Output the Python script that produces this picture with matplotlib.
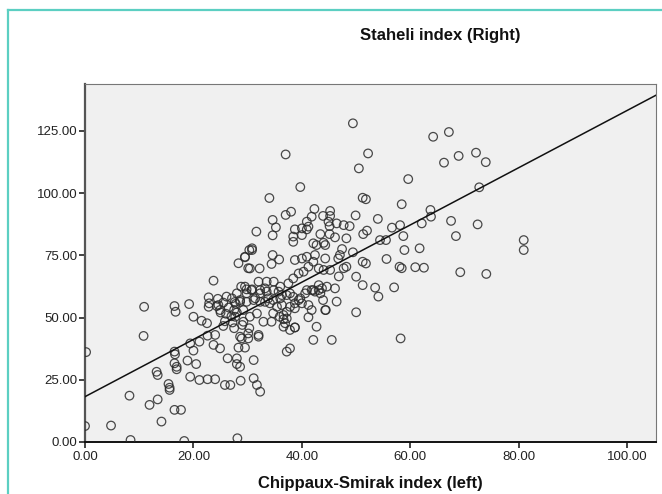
import numpy as np
import matplotlib
matplotlib.use("Agg")
import matplotlib.pyplot as plt
from matplotlib.lines import Line2D

plt.rcParams['font.family'] = ['Liberation Sans', 'DejaVu Sans']

# Chippaux-Smirak index (left foot) for each subject
cs_left = [
    # lower left
    0.2, 0.0, 4.8, 8.4, 8.2, 10.8, 10.9, 11.9, 13.4, 14.1, 13.2, 13.4, 15.4, 15.6, 15.6,
    16.5, 17.7, 16.5, 16.6, 16.5, 16.9, 16.9, 16.7, 16.5, 18.3, 18.9, 20.5, 19.4, 21.1,
    22.6, 24.0, 20.0, 21.5, 22.5, 19.4, 21.1, 20.0, 22.6, 24.0, 23.7, 24.9, 25.5, 26.3,
    28.0, 28.0, 25.8, 26.8, 28.7, 28.1, 27.5, 28.9, 28.3, 29.5, 30.1, 31.1, 31.7, 32.3,
    31.1, 28.6, 30.3,
    # central band
    19.2, 23.7, 22.8, 22.9, 22.8, 24.3, 24.9, 26.1, 27.1, 28.3, 29.5, 30.3, 30.1, 28.8,
    28.0, 28.6, 29.8, 24.6, 27.6, 29.8, 30.7, 31.1, 32.3, 33.2, 33.8, 34.7, 35.7, 36.3,
    37.8, 38.7, 39.7, 40.9, 42.1, 42.4, 43.1, 43.4, 44.6, 46.1, 46.4, 42.7, 42.1, 45.5,
    37.2, 37.8, 38.7, 34.7, 35.9, 32.0, 25.5, 26.5, 27.5, 26.0, 27.0, 28.0, 25.0, 24.5,
    27.8, 25.8, 27.2, 29.0, 27.7, 29.2,
    29.5, 30.8, 30.4, 32.2, 34.6, 35.8, 34.4, 29.5, 30.8, 32.0, 33.5, 34.8, 32.3, 33.5,
    34.8, 36.0, 37.5, 38.4, 39.4, 40.3, 41.2, 42.1, 43.1, 44.0, 45.2, 38.7, 40.0, 40.9,
    42.4, 44.3, 46.7, 42.7, 44.3, 36.0, 37.2, 38.4, 39.4, 40.6, 41.8, 43.1, 28.6, 29.8,
    31.4, 32.3, 33.2, 34.1, 35.4, 36.3, 37.8, 38.7, 40.0, 41.2, 29.2, 30.4, 31.7, 32.9,
    34.4, 36.6, 37.2, 38.7, 30.1, 32.0, 28.6,
    37.8, 36.6, 37.2, 36.6, 36.9, 43.7, 41.8, 41.2, 44.3, 50.0, 50.0, 51.2, 53.5, 57.0,
    54.1, 51.2, 51.8, 48.2, 47.7, 55.6, 58.0, 58.4, 60.9, 62.5, 69.2, 74.0, 58.2, 43.9,
    44.4, 46.8,
    # upper part
    49.4, 37.0, 52.2, 50.5, 59.6, 39.7, 34.0, 51.2, 51.8, 58.4, 49.9, 54.0, 37.0, 38.0,
    34.6, 35.2, 31.6, 34.6, 42.3, 45.2, 41.8, 43.9, 45.2, 40.9, 44.9, 38.7, 40.0, 40.9,
    41.2, 38.4, 38.4, 40.0, 43.4, 45.1, 45.1, 46.4, 47.7, 48.8, 46.1, 48.2, 51.3, 52.0,
    56.6, 58.1, 58.7, 54.4, 55.5, 30.8, 42.1, 44.0, 58.9, 64.2, 67.1, 66.2, 68.9, 72.1,
    73.9, 72.7, 63.7, 63.8, 62.1, 67.5, 72.4, 68.4, 61.7, 80.9, 80.9, 47.4, 49.4, 47.0,
]

# Staheli index (right foot) for the same subjects
staheli_right = [
    # lower left
    36.1, 6.4, 6.6, 0.8, 18.6, 42.6, 54.3, 14.9, 17.1, 8.2, 28.2, 26.9, 23.3, 21.8, 20.9,
    12.9, 12.9, 36.3, 35.2, 31.6, 30.2, 29.2, 52.3, 54.6, 0.4, 32.7, 31.3, 26.2, 24.9,
    25.2, 25.2, 50.3, 48.7, 47.7, 39.6, 40.3, 36.7, 42.7, 43.0, 39.0, 37.6, 46.6, 33.6,
    33.6, 31.3, 22.9, 22.9, 24.6, 1.5, 45.7, 41.6, 37.9, 37.9, 41.6, 25.6, 22.9, 20.2,
    32.9, 30.2, 45.7,
    # central band
    55.4, 64.8, 58.1, 55.7, 54.3, 54.6, 53.0, 58.4, 57.7, 71.8, 74.2, 77.1, 69.8, 62.4,
    59.7, 57.0, 61.3, 55.0, 56.2, 59.7, 61.0, 57.0, 59.7, 61.7, 57.7, 57.0, 60.4, 59.0,
    59.7, 55.7, 57.7, 61.0, 61.0, 60.4, 63.0, 59.7, 62.4, 61.7, 56.4, 46.3, 41.0, 41.0,
    36.3, 37.6, 46.0, 51.7, 50.3, 43.0, 56.0, 54.0, 53.0, 51.5, 50.5, 52.0, 52.0, 57.5,
    55.5, 48.5, 48.0, 47.0, 50.3, 48.3,
    74.4, 77.1, 69.7, 69.7, 75.1, 73.3, 71.5, 62.4, 61.3, 64.4, 64.4, 64.4, 61.0, 60.4,
    61.0, 62.4, 63.7, 65.7, 67.7, 68.4, 70.4, 72.4, 69.7, 69.1, 69.1, 73.1, 73.7, 74.4,
    75.1, 73.7, 73.7, 79.1, 79.1, 57.7, 59.0, 58.3, 57.0, 59.7, 61.0, 61.0, 56.3, 56.3,
    57.7, 56.3, 56.3, 55.7, 54.3, 55.0, 54.3, 53.7, 55.7, 55.0, 53.0, 50.3, 51.6, 48.3,
    48.3, 51.0, 49.6, 46.0, 43.6, 42.3, 42.3,
    45.0, 46.3, 52.3, 49.3, 47.7, 61.7, 53.0, 50.1, 53.0, 52.1, 66.4, 63.0, 62.0, 62.1,
    58.4, 72.4, 71.7, 70.4, 69.8, 73.5, 70.4, 69.8, 70.2, 70.0, 68.2, 67.5, 41.6, 57.0,
    53.0, 66.5,
    # upper part
    128.0, 115.5, 115.9, 109.9, 105.6, 102.4, 98.0, 98.1, 97.5, 95.5, 91.0, 89.6, 91.2, 92.5,
    89.2, 86.2, 84.5, 83.0, 93.6, 92.8, 90.5, 90.8, 90.8, 88.5, 88.5, 85.4, 85.8, 85.4,
    86.5, 82.5, 80.4, 83.1, 83.5, 86.7, 83.5, 87.8, 87.1, 86.7, 82.2, 81.8, 83.5, 84.9,
    86.1, 87.1, 82.7, 81.1, 81.1, 77.8, 79.8, 80.0, 77.1, 122.6, 124.5, 112.2, 114.9, 116.2,
    112.4, 102.3, 93.2, 90.5, 87.8, 88.8, 87.4, 82.7, 77.8, 81.1, 77.1, 77.5, 76.2, 75.1,
]

# linear fit line (intercept, slope)
fit_intercept = 18.2
fit_slope = 1.15

x_ticks = [0, 20, 40, 60, 80, 100]
y_ticks = [0, 25, 50, 75, 100, 125]
x_range = (0, 105.3)
y_range = (0, 143.8)

fig = plt.figure(figsize=(6.62, 4.94), dpi=100)
fig.patch.set_facecolor('white')

# teal outline around the chart panel
fig.add_artist(Line2D([0.012, 1.0], [0.98, 0.98], color='#5ccfc2', lw=1.6,
                      transform=fig.transFigure))
fig.add_artist(Line2D([0.012, 0.012], [0.0, 0.98], color='#5ccfc2', lw=1.6,
                      transform=fig.transFigure))

ax = fig.add_axes([0.1284, 0.1053, 0.8626, 0.7247])
ax.set_facecolor('#f0f0f0')

ax.scatter(cs_left, staheli_right, s=38, facecolors='none',
           edgecolors='#2b2b2b', linewidths=0.9, alpha=0.85, zorder=3)

fit_x = np.array(x_range)
ax.plot(fit_x, fit_intercept + fit_slope * fit_x, color='#111111', lw=1.1, zorder=4)

ax.set_xlim(*x_range)
ax.set_ylim(*y_range)
ax.set_xticks(x_ticks)
ax.set_yticks(y_ticks)
ax.set_xticklabels([f'{v:.2f}' for v in x_ticks])
ax.set_yticklabels([f'{v:.2f}' for v in y_ticks])
ax.tick_params(direction='out', length=4.5, width=1.2, colors='#222222',
               labelsize=9.5, labelcolor='#222222')
ax.tick_params(axis='y', pad=1.0)
ax.tick_params(axis='x', pad=2.0)

ax.spines['left'].set_color('#555555')
ax.spines['left'].set_linewidth(1.6)
ax.spines['bottom'].set_color('#111111')
ax.spines['bottom'].set_linewidth(1.4)
ax.spines['top'].set_color('#777777')
ax.spines['right'].set_color('#777777')

ax.set_xlabel('Chippaux-Smirak index (left)', fontsize=12, fontweight='bold',
              color='#111111', labelpad=9)
fig.text(0.665, 0.928, 'Staheli index (Right)', fontsize=12, fontweight='bold',
         color='#111111', ha='center', va='center')

fig.savefig('out.png', dpi=100)
